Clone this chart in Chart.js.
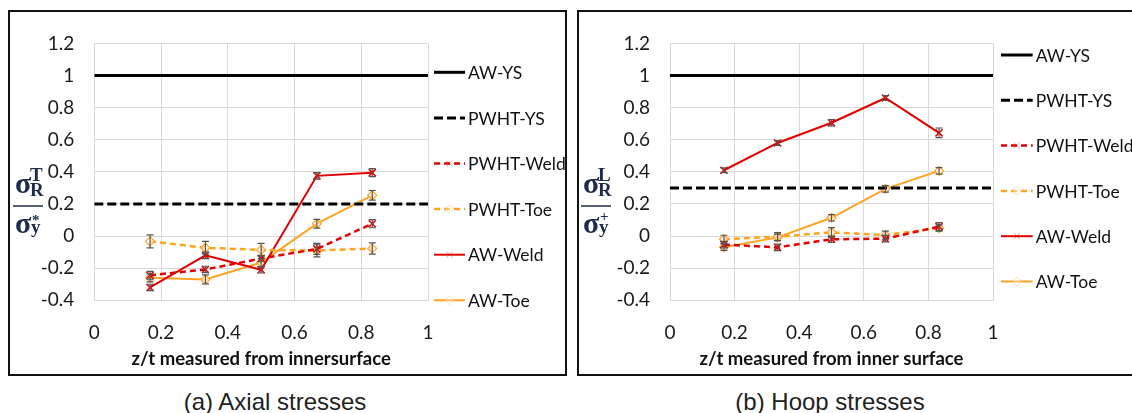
<!DOCTYPE html>
<html>
<head>
<meta charset="utf-8">
<script src="https://cdn.jsdelivr.net/npm/chart.js@4.4.1/dist/chart.umd.min.js"></script>
<style>
  body { margin: 0; background: #fff; width: 1132px; height: 413px; overflow: hidden; position: relative; }
  .box { position: absolute; top: 10px; height: 366px; border: 2px solid #111; box-sizing: border-box; }
  #boxA { left: 8px; width: 559px; }
  #boxB { left: 577px; width: 600px; }
  canvas { position: absolute; top: 12px; }
  .cap { position: absolute; top: 388px; font-family: "Liberation Sans", Arial, sans-serif; font-size: 24px;
         color: #222; transform: translateX(-50%); white-space: nowrap; }
</style>
</head>
<body>
<div class="box" id="boxA"></div>
<div class="box" id="boxB"></div>
<canvas id="chartA" width="555" height="362" style="left:10px"></canvas>
<canvas id="chartB" width="553" height="362" style="left:579px"></canvas>
<div class="cap" style="left:275px">(a) Axial stresses</div>
<div class="cap" style="left:830px">(b) Hoop stresses</div>

<script>
// depth positions z/t
const zt = [0.167, 0.333, 0.5, 0.667, 0.833];
const ytEnds = [0, 1];

// (a) axial stresses, normalised
const axAwYS = 1.0;
const axPwhtYS = 0.2;
const axPwhtWeld = [-0.244, -0.208, -0.14, -0.08, 0.077];
const axPwhtToe = [-0.033, -0.073, -0.086, -0.09, -0.077];
const axAwWeld = [-0.32, -0.12, -0.21, 0.375, 0.395];
const axAwToe = [-0.26, -0.27, -0.165, 0.077, 0.254];
// error bar half widths
const axPwhtWeldErr = [0.024, 0.02, 0.02, 0.034, 0.025];
const axPwhtToeErr = [0.04, 0.04, 0.04, 0.04, 0.035];
const axAwWeldErr = [0.02, 0.02, 0.02, 0.02, 0.025];
const axAwToeErr = [0.025, 0.028, 0.025, 0.027, 0.03];

// (b) hoop stresses, normalised
const hpAwYS = 1.0;
const hpPwhtYS = 0.3;
const hpPwhtWeld = [-0.053, -0.07, -0.02, -0.016, 0.059];
const hpPwhtToe = [-0.02, -0.004, 0.023, 0.006, 0.05];
const hpAwWeld = [0.41, 0.58, 0.706, 0.86, 0.643];
const hpAwToe = [-0.069, -0.008, 0.114, 0.294, 0.406];
const hpPwhtWeldErr = [0.02, 0.02, 0.02, 0.02, 0.025];
const hpPwhtToeErr = [0.025, 0.025, 0.03, 0.025, 0.02];
const hpAwWeldErr = [0.015, 0.015, 0.02, 0.015, 0.03];
const hpAwToeErr = [0.02, 0.02, 0.02, 0.02, 0.02];

const seriesNames = ['AW-YS', 'PWHT-YS', 'PWHT-Weld', 'PWHT-Toe', 'AW-Weld', 'AW-Toe'];

const RED = '#e00000';
const ORANGE = '#ffa321';

function pts(xs, ys) {
    return xs.map((x, i) => ({ x: x, y: ys[i] }));
}

function flat(v) {
    return ytEnds.map(x => ({ x: x, y: v }));
}

// excel prints 1 not 1.0
function tickFmt(v) {
    return String(+v.toFixed(1));
}

// draws the little I-shaped error bars
const errorBars = {
    id: 'errorBars',
    afterDatasetsDraw(chart) {
        const ctx = chart.ctx;
        const xs = chart.scales.x, ys = chart.scales.y;
        chart.data.datasets.forEach(ds => {
            if (!ds.errors) return;
            ctx.save();
            ctx.strokeStyle = '#555';
            ctx.lineWidth = 1.2;
            ds.data.forEach((p, j) => {
                const x = xs.getPixelForValue(p.x);
                const yA = ys.getPixelForValue(p.y - ds.errors[j]);
                const yB = ys.getPixelForValue(p.y + ds.errors[j]);
                ctx.beginPath();
                ctx.moveTo(x, yA); ctx.lineTo(x, yB);
                ctx.moveTo(x - 3.5, yA); ctx.lineTo(x + 3.5, yA);
                ctx.moveTo(x - 3.5, yB); ctx.lineTo(x + 3.5, yB);
                ctx.stroke();
            });
            ctx.restore();
        });
    }
};

// legend on the right, excel style
const sideLegend = {
    id: 'sideLegend',
    afterDraw(chart, args, o) {
        const ctx = chart.ctx;
        chart.data.datasets.forEach((ds, i) => {
            const y = o.top + i * o.step;
            ctx.save();
            ctx.strokeStyle = ds.borderColor;
            ctx.lineWidth = ds.borderWidth;
            ctx.setLineDash(ds.borderDash || []);
            ctx.beginPath();
            ctx.moveTo(o.x1, y);
            ctx.lineTo(o.x2, y);
            ctx.stroke();
            ctx.setLineDash([]);
            if (ds.pointRadius > 0) {
                ctx.globalAlpha = 0.35;
                ctx.strokeStyle = ds.pointBorderColor;
                ctx.fillStyle = '#fff';
                ctx.lineWidth = 1;
                Chart.helpers.drawPoint(ctx, { pointStyle: ds.pointStyle, radius: 4.5, rotation: 0, borderWidth: 1 },
                    (o.x1 + o.x2) / 2, y);
            }
            ctx.globalAlpha = 1;
            ctx.fillStyle = '#111';
            ctx.font = '17.5px Lato';
            ctx.textBaseline = 'middle';
            ctx.fillText(ds.label, o.x2 + o.gap, y + 1);
            ctx.restore();
        });
    }
};

// stacked fraction title on the y side
const fracTitle = {
    id: 'fracTitle',
    afterDraw(chart, args, o) {
        const ctx = chart.ctx;
        ctx.save();
        ctx.fillStyle = '#1c2b4a';
        ctx.strokeStyle = '#1c2b4a';
        ctx.textBaseline = 'alphabetic';
        ctx.font = 'bold 30px "Liberation Serif"';
        ctx.fillText('σ', o.x, o.lineY - 13);
        ctx.fillText('σ', o.x, o.lineY + 27);
        ctx.font = 'bold 19px "Liberation Serif"';
        ctx.fillText(o.sup, o.x + 15, o.lineY - 25);
        ctx.fillText('R', o.x + 15, o.lineY - 10);
        ctx.fillText('y', o.x + 16, o.lineY + 27);
        ctx.font = 'bold 15px "Liberation Serif"';
        ctx.fillText(o.sup2, o.x + 17, o.lineY + o.sup2Drop);
        ctx.lineWidth = 1.5;
        ctx.beginPath();
        ctx.moveTo(o.x - 2, o.lineY);
        ctx.lineTo(o.x + 28, o.lineY);
        ctx.stroke();
        ctx.restore();
    }
};

function makeDatasets(ys, pys, pWeld, pToe, aWeld, aToe, errs) {
    return [
        { label: seriesNames[0], data: flat(ys), borderColor: '#000', borderWidth: 3, pointRadius: 0 },
        { label: seriesNames[1], data: flat(pys), borderColor: '#000', borderWidth: 3, borderDash: [9, 4], pointRadius: 0 },
        { label: seriesNames[2], data: pts(zt, pWeld), errors: errs[0], borderColor: RED, borderWidth: 2.5, borderDash: [6, 4],
          pointStyle: 'crossRot', pointRadius: 5, pointBorderColor: RED, pointBorderWidth: 1.5 },
        { label: seriesNames[3], data: pts(zt, pToe), errors: errs[1], borderColor: ORANGE, borderWidth: 2.5, borderDash: [6, 4],
          pointStyle: 'rectRot', pointRadius: 4.5, pointBorderColor: ORANGE, pointBackgroundColor: 'rgba(255,255,255,0.6)', pointBorderWidth: 1.2 },
        { label: seriesNames[4], data: pts(zt, aWeld), errors: errs[2], borderColor: RED, borderWidth: 2,
          pointStyle: 'crossRot', pointRadius: 5, pointBorderColor: RED, pointBorderWidth: 1.5 },
        { label: seriesNames[5], data: pts(zt, aToe), errors: errs[3], borderColor: ORANGE, borderWidth: 2,
          pointStyle: 'rectRot', pointRadius: 4.5, pointBorderColor: ORANGE, pointBackgroundColor: 'rgba(255,255,255,0.6)', pointBorderWidth: 1.2 }
    ];
}

function makeChart(id, datasets, cfg) {
    const ctx = document.getElementById(id).getContext('2d');
    return new Chart(ctx, {
        type: 'line',
        data: { datasets: datasets },
        options: {
            responsive: false,
            maintainAspectRatio: false,
            animation: false,
            devicePixelRatio: 1,
            layout: { padding: { left: cfg.padLeft, right: cfg.padRight, top: 17, bottom: 0 } },
            elements: { line: { tension: 0, fill: false } },
            plugins: {
                legend: { display: false },
                tooltip: { enabled: false },
                sideLegend: cfg.legend,
                fracTitle: cfg.frac
            },
            scales: {
                x: {
                    type: 'linear',
                    min: 0, max: 1,
                    afterFit: s => { s.height = 73.7; },
                    grid: { color: '#d9d9d9', drawTicks: false },
                    border: { color: '#d9d9d9' },
                    ticks: { stepSize: 0.2, padding: 21, color: '#1a1a1a', font: { family: 'Lato', size: 19 }, callback: tickFmt },
                    title: {
                        display: true,
                        text: cfg.xTitle,
                        color: '#111',
                        font: { family: 'Lato', size: 18.5, weight: 'bold' },
                        padding: { top: 0, bottom: 4 }
                    }
                },
                y: {
                    min: -0.4, max: 1.2,
                    afterFit: s => { s.width = cfg.yWidth; },
                    grid: { color: '#d9d9d9', drawTicks: false },
                    border: { color: '#d9d9d9' },
                    ticks: { stepSize: 0.2, padding: 20, color: '#1a1a1a', font: { family: 'Lato', size: 19 }, callback: tickFmt }
                }
            }
        },
        plugins: [errorBars, sideLegend, fracTitle]
    });
}

makeChart('chartA',
    makeDatasets(axAwYS, axPwhtYS, axPwhtWeld, axPwhtToe, axAwWeld, axAwToe,
        [axPwhtWeldErr, axPwhtToeErr, axAwWeldErr, axAwToeErr]),
    {
        padLeft: 30, yWidth: 54.3, padRight: 137,
        xTitle: 'z/t measured from innersurface',
        legend: { x1: 424, x2: 455, gap: 3, top: 60.3, step: 45.6 },
        frac: { x: 5, lineY: 194, sup: 'T', sup2: '*', sup2Drop: 19 }
    });

makeChart('chartB',
    makeDatasets(hpAwYS, hpPwhtYS, hpPwhtWeld, hpPwhtToe, hpAwWeld, hpAwToe,
        [hpPwhtWeldErr, hpPwhtToeErr, hpAwWeldErr, hpAwToeErr]),
    {
        padLeft: 30, yWidth: 61, padRight: 139,
        xTitle: 'z/t measured from inner surface',
        legend: { x1: 422, x2: 453.7, gap: 3, top: 43, step: 45.3 },
        frac: { x: 4, lineY: 194, sup: 'L', sup2: '+', sup2Drop: 15 }
    });
</script>
</body>
</html>
